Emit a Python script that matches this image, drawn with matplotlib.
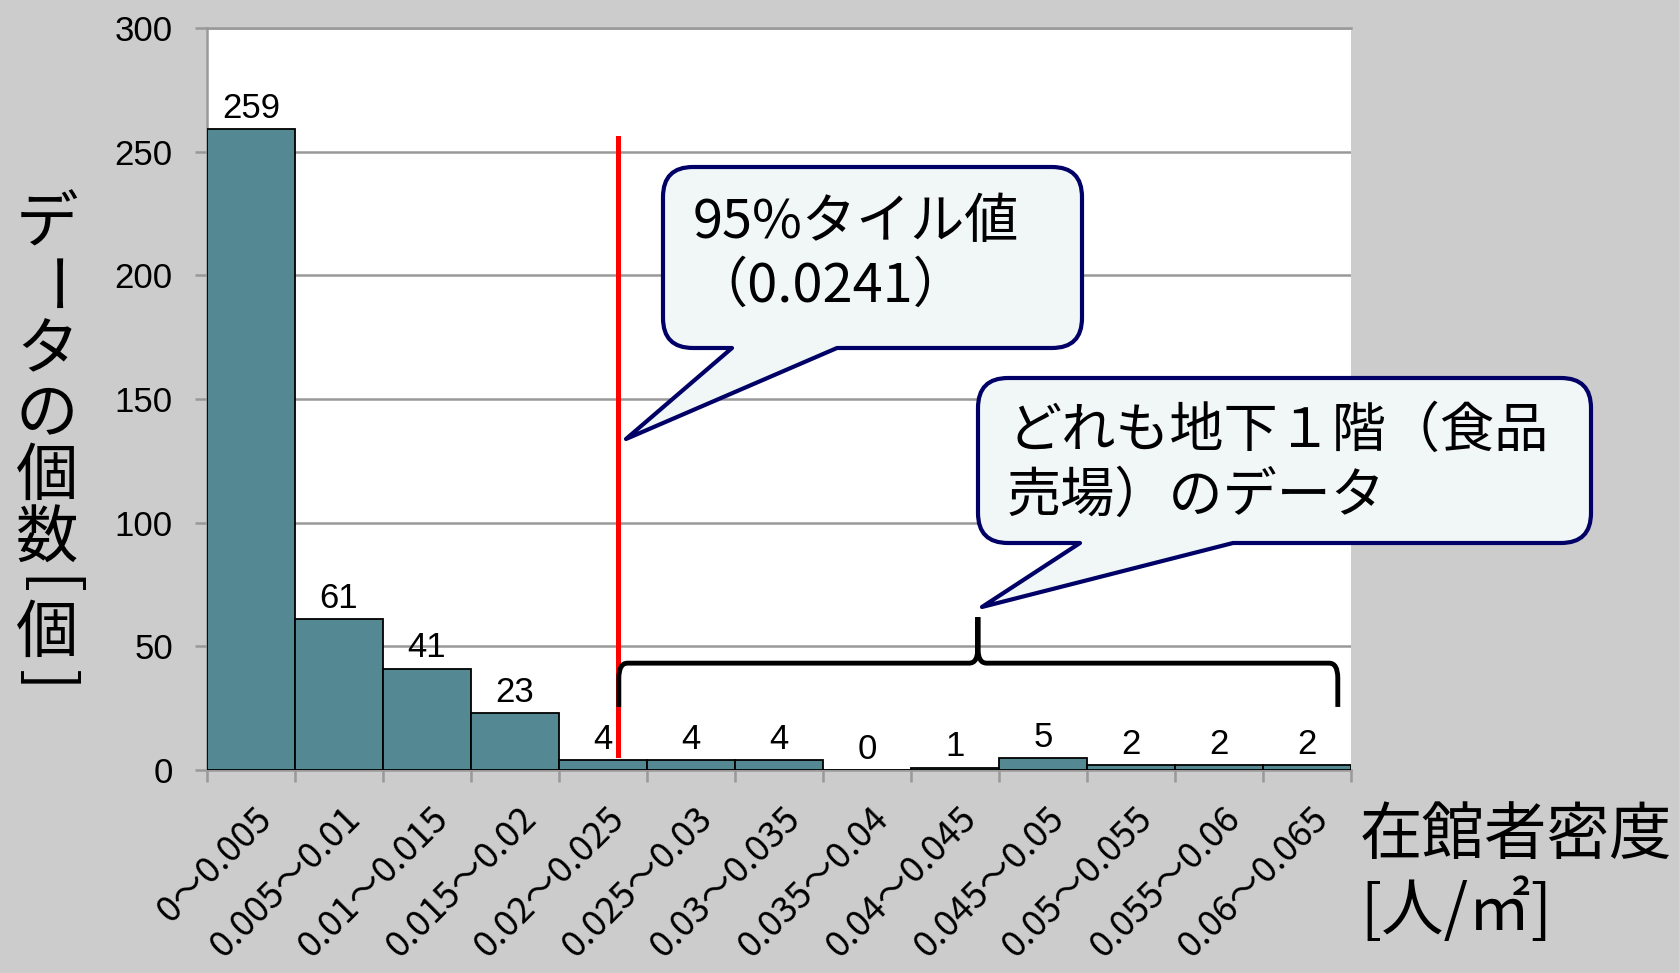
import numpy as np
import matplotlib.pyplot as plt
from matplotlib.path import Path
from matplotlib.patches import PathPatch
from matplotlib import transforms

W, H = 1679, 973

# data
bins = ['0〜0.005', '0.005〜0.01', '0.01〜0.015', '0.015〜0.02', '0.02〜0.025',
        '0.025〜0.03', '0.03〜0.035', '0.035〜0.04', '0.04〜0.045', '0.045〜0.05',
        '0.05〜0.055', '0.055〜0.06', '0.06〜0.065']
counts = [259, 61, 41, 23, 4, 4, 4, 0, 1, 5, 2, 2, 2]
yticks = [0, 50, 100, 150, 200, 250, 300]
pct95_pos = 4.17          # red line position on the bin axis (as drawn)
ylabel_chars = ['デ', 'ー', 'タ', 'の', '個', '数', '[', '個', ']']
xlabel_lines = ['在館者密度', '[人/㎡]']
note1 = ['95%タイル値', '（0.0241）']
note2 = ['どれも地下１階（食品', '売場）のデータ']

BAR = '#548994'
GRID = '#999999'
NAVY = '#000066'
FILL = '#f1f6f6'
JP = ['Noto Sans CJK JP', 'DejaVu Sans']
EN = ['Liberation Sans', 'Noto Sans CJK JP']

fig = plt.figure(figsize=(W / 100, H / 100), dpi=100, facecolor='#cccccc')
ax = fig.add_axes([207 / W, 1 - 770 / H, (1351 - 207) / W, (770 - 28) / H])
ax.set_facecolor('white')

x = np.arange(len(bins))
ax.bar(x, counts, width=1.0, color=BAR, edgecolor='black', linewidth=1.3, zorder=3)
for xi, c in zip(x, counts):
    ax.annotate(str(c), (xi, c), xytext=(0, 8), textcoords='offset points',
                ha='center', va='baseline', fontsize=25, family=EN, zorder=4)

ax.set_xlim(-0.5, len(bins) - 0.5)
ax.set_ylim(0, 300)
ax.set_yticks(yticks)
ax.set_yticklabels([str(v) for v in yticks], fontsize=25, family=EN)
ax.yaxis.grid(True, color=GRID, linewidth=1.8, zorder=0)
ax.set_axisbelow(True)
ax.spines['right'].set_visible(False)
for s in ['left', 'bottom', 'top']:
    ax.spines[s].set_color(GRID)
    ax.spines[s].set_linewidth(1.8)
ax.tick_params(axis='y', length=8.6, width=1.8, color=GRID, pad=16)

ax.set_xticks(x)
ax.set_xticks(np.arange(len(bins) + 1) - 0.5, minor=True)
ax.set_xticklabels(bins, rotation=45, ha='right', rotation_mode='anchor',
                   fontsize=26, family=JP)
ax.tick_params(axis='x', which='major', length=0, pad=22)
ax.tick_params(axis='x', which='minor', length=8.6, width=1.8, color=GRID)
shift = transforms.ScaledTranslation(0.03, 0, fig.dpi_scale_trans)
for lab in ax.get_xticklabels():
    lab.set_transform(lab.get_transform() + shift)

# 95 percentile line
ax.plot([pct95_pos, pct95_pos], [6, 255.5], color='#ff0000', linewidth=3.6, zorder=5)

# brace over the upper bins
xl, xr, xm = 4.18, 12.35, 8.26
yh, ye, yt = 43.2, 25.5, 61.8
bv = [(xl, ye), (xl, yh - 6), (xl, yh), (xl + 0.1, yh),
      (xm - 0.1, yh), (xm, yh), (xm, yh + 6), (xm, yt),
      (xm, yh + 6), (xm, yh), (xm + 0.1, yh),
      (xr - 0.1, yh), (xr, yh), (xr, yh - 6), (xr, ye)]
bc = [Path.MOVETO, Path.LINETO, Path.CURVE3, Path.CURVE3,
      Path.LINETO, Path.CURVE3, Path.CURVE3, Path.LINETO,
      Path.LINETO, Path.CURVE3, Path.CURVE3,
      Path.LINETO, Path.CURVE3, Path.CURVE3, Path.LINETO]
ax.add_patch(PathPatch(Path(bv, bc), facecolor='none', edgecolor='black',
                       linewidth=3.5, zorder=5, capstyle='butt'))

# callouts in pixel coordinates (y down)
px = transforms.Affine2D().scale(1 / W, -1 / H).translate(0, 1) + fig.transFigure


def callout(x0, y0, x1, y1, r, tl, tr, tip):
    v = [(x0 + r, y0), (x1 - r, y0), (x1, y0), (x1, y0 + r), (x1, y1 - r),
         (x1, y1), (x1 - r, y1), (tr, y1), tip, (tl, y1), (x0 + r, y1),
         (x0, y1), (x0, y1 - r), (x0, y0 + r), (x0, y0), (x0 + r, y0), (x0 + r, y0)]
    c = [Path.MOVETO, Path.LINETO, Path.CURVE3, Path.CURVE3, Path.LINETO,
         Path.CURVE3, Path.CURVE3, Path.LINETO, Path.LINETO, Path.LINETO, Path.LINETO,
         Path.CURVE3, Path.CURVE3, Path.LINETO, Path.CURVE3, Path.CURVE3, Path.CLOSEPOLY]
    fig.add_artist(PathPatch(Path(v, c), transform=px, facecolor=FILL,
                             edgecolor=NAVY, linewidth=3, joinstyle='round', zorder=6))


callout(663, 167, 1082, 348, 30, 732, 837, (626, 439))
callout(978, 378, 1591, 543, 30, 1080, 1233, (982, 607))

for line, yc in zip(note1, [222, 286]):
    fig.text(693 / W, 1 - yc / H, line, fontsize=39, family=JP, va='center', ha='left', zorder=7)
for line, yc in zip(note2, [431, 496]):
    fig.text(1007 / W, 1 - yc / H, line, fontsize=39, family=JP, va='center', ha='left', zorder=7)

# vertical y label
yc = 225
prev = None
for ch in ylabel_chars:
    half = ch in '[]'
    if prev is not None:
        yc += (31 if prev else 63) / 2 + (31 if half else 63) / 2
    rot = -90 if ch in '[]ー' else 0
    fig.text(47 / W, 1 - yc / H, ch, fontsize=45, family=JP, rotation=rot,
             ha='center', va='center', rotation_mode='anchor')
    prev = half

# x label at the right
for line, yc in zip(xlabel_lines, [836, 911]):
    fig.text(1360 / W, 1 - yc / H, line, fontsize=45, family=JP, va='center', ha='left')

fig.savefig('out.png', dpi=100, facecolor=fig.get_facecolor())
